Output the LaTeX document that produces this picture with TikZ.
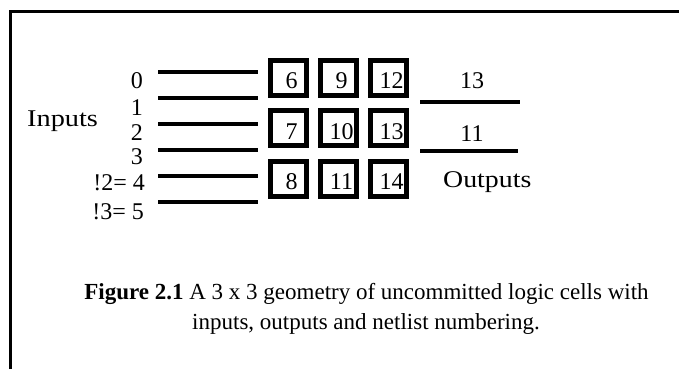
\documentclass[tikz,border=0pt]{standalone}
\usepackage{fontspec}
\setmainfont{Liberation Serif}
\begin{document}
\begin{tikzpicture}[x=1pt,y=-1pt,
  frame/.style={line width=3pt},
  wire/.style={line width=4pt},
  cell/.style={draw, line width=5pt, minimum width=36pt, minimum height=35pt, inner sep=0pt},
  numlab/.style={font=\fontsize{24}{26}\selectfont, inner sep=0pt, xshift=3pt, yshift=-3pt},
  lbl/.style={font=\fontsize{24}{26}\selectfont, inner sep=0pt},
  captext/.style={font=\fontsize{23}{28}\selectfont, inner sep=0pt, anchor=base}]
\useasboundingbox (0,0) rectangle (679,369);
% frame (top and left edges)
\coordinate (fbl) at (10.5,369);
\coordinate (ftl) at (10.5,11.5);
\coordinate (ftr) at (679,11.5);
\draw[frame] (fbl) -- (ftl) -- (ftr);
% input wires
\foreach \i/\y in {0/72.3,1/98.3,2/123.8,3/150,4/175.7,5/201.7}{
  \coordinate (ia\i) at (158.3,\y);
  \coordinate (ib\i) at (258.3,\y);
  \draw[wire] (ia\i) -- (ib\i);
}
% input labels
\node[lbl, anchor=base east] (l0) at (143,88) {0};
\node[lbl, anchor=base east] (l1) at (143,115) {1};
\node[lbl, anchor=base east] (l2) at (143,140) {2};
\node[lbl, anchor=base east] (l3) at (143,164.5) {3};
\node[lbl, anchor=base east] (l4) at (145,190) {!2= 4};
\node[lbl, anchor=base east] (l5) at (144,219) {!3= 5};
\node[lbl, anchor=base west] (inputs) at (27,126) {\scalebox{1.18}[1]{Inputs}};
% cells
\foreach \n/\x/\y in {6/288.5/77.5, 9/338.5/77.5, 12/388.5/77.5,
                      7/288.5/128.3, 10/338.5/128.3, 13/388.5/128.3,
                      8/288.5/179, 11/338.5/179, 14/388.5/179}{
  \node[cell, label={[numlab]center:\n}] (c\n) at (\x,\y) {};
}
% outputs
\coordinate (oa1) at (420,102);
\coordinate (ob1) at (520,102);
\coordinate (oa2) at (420,151);
\coordinate (ob2) at (518,151);
\draw[wire] (oa1) -- (ob1);
\draw[wire] (oa2) -- (ob2);
\node[lbl, anchor=base] (o13) at (472,88.3) {13};
\node[lbl, anchor=base] (o11) at (472,141.7) {11};
\node[lbl, anchor=base west] (outputs) at (443,187) {\scalebox{1.16}[1]{Outputs}};
% caption
\node[captext] (cap1) at (366.5,299) {\textbf{Figure 2.1} A 3 x 3 geometry of uncommitted logic cells with};
\node[captext] (cap2) at (366,329) {inputs, outputs and netlist numbering.};
\end{tikzpicture}
\end{document}
